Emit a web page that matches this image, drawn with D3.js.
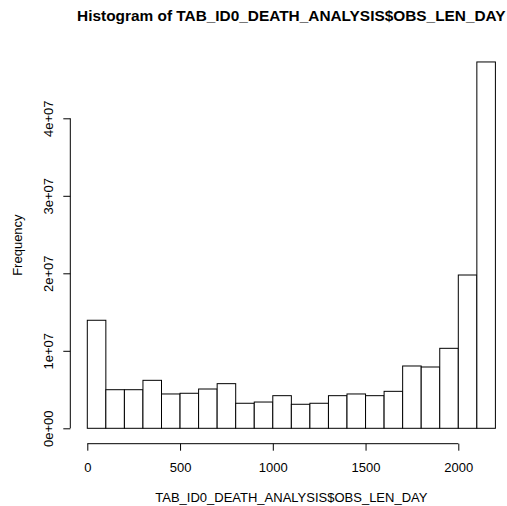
<!DOCTYPE html>
<html lang="en">
  <head>
    <meta charset="utf-8">
    <title>Histogram</title>
    <script src="https://cdn.jsdelivr.net/npm/d3@7"></script>
    <style>
      body { margin: 0; background: white; }
      text { font-family: "Liberation Sans", Arial, sans-serif; fill: black; }
      .bars { fill: white; stroke: black; stroke-width: 1px; }
    </style>
  </head>
  <body>
    <script>
      // bin edges (days) and counts per bin
      var binStarts = [0, 100, 200, 300, 400, 500, 600, 700, 800, 900, 1000,
                       1100, 1200, 1300, 1400, 1500, 1600, 1700, 1800, 1900, 2000, 2100];
      var binWidth = 100;
      var counts = [13.94e6, 4.98e6, 4.98e6, 6.19e6, 4.43e6, 4.52e6, 5.07e6, 5.76e6,
                    3.23e6, 3.39e6, 4.21e6, 3.10e6, 3.23e6, 4.21e6, 4.43e6, 4.21e6,
                    4.77e6, 8.04e6, 7.91e6, 10.32e6, 19.78e6, 47.27e6];
      var xTicks = [0, 500, 1000, 1500, 2000];
      var yTicks = [0, 1e7, 2e7, 3e7, 4e7];
      var yTickLabels = ["0e+00", "1e+07", "2e+07", "3e+07", "4e+07"];

      var width = 507, height = 506;

      var svg = d3.select("body")
                  .append("svg")
                  .attr("width", width)
                  .attr("height", height);

      var x = d3.scaleLinear()
                .domain([0, 2200])
                .range([87.3, 495.4]);

      var y = d3.scaleLinear()
                .domain([0, 4e7])
                .range([428.3, 118.3]);

      // bars
      svg.append("g")
         .selectAll("rect")
         .data(counts)
         .enter()
         .append("rect")
           .attr("class", "bars")
           .attr("x", (d, i) => x(binStarts[i]))
           .attr("width", (d, i) => x(binStarts[i] + binWidth) - x(binStarts[i]))
           .attr("y", d => y(d))
           .attr("height", d => y(0) - y(d));

      // x axis, sitting below the bars like R does
      var xAxis = svg.append("g")
         .attr("transform", "translate(0,443.7)")
         .call(d3.axisBottom(x).tickValues(xTicks).tickSize(7).tickSizeOuter(0)
                 .tickPadding(12).tickFormat(d3.format("d")));
      xAxis.select(".domain")
           .attr("d", "M" + x(0) + ",0H" + x(2000));
      xAxis.selectAll("text")
           .style("font-size", "13px")
           .style("font-family", "Liberation Sans, Arial, sans-serif");

      // y axis with rotated labels
      var yAxis = svg.append("g")
         .attr("transform", "translate(70.3,0)")
         .call(d3.axisLeft(y).tickValues(yTicks).tickSize(7).tickSizeOuter(0)
                 .tickFormat((d, i) => yTickLabels[i]));
      yAxis.select(".domain")
           .attr("d", "M0," + y(0) + "V" + y(4e7));
      yAxis.selectAll(".tick text")
           .attr("x", null)
           .attr("dy", null)
           .attr("text-anchor", "middle")
           .attr("transform", "translate(-17,0) rotate(-90)")
           .style("font-size", "13px")
           .style("font-family", "Liberation Sans, Arial, sans-serif");

      // plot region centre (R pads the data range by 4%)
      var maxCount = d3.max(counts);
      var midY = (y(-0.04 * maxCount) + y(1.04 * maxCount)) / 2;
      var midX = x(1100);

      // titles
      svg.append("text")
         .attr("x", midX)
         .attr("y", 21)
         .attr("text-anchor", "middle")
         .style("font-size", "15.4px")
         .style("font-weight", "bold")
         .text("Histogram of TAB_ID0_DEATH_ANALYSIS$OBS_LEN_DAY");

      svg.append("text")
         .attr("x", midX)
         .attr("y", 502)
         .attr("text-anchor", "middle")
         .style("font-size", "13px")
         .text("TAB_ID0_DEATH_ANALYSIS$OBS_LEN_DAY");

      svg.append("text")
         .attr("transform", "translate(22," + midY + ") rotate(-90)")
         .attr("text-anchor", "middle")
         .style("font-size", "13px")
         .text("Frequency");
    </script>
  </body>
</html>
